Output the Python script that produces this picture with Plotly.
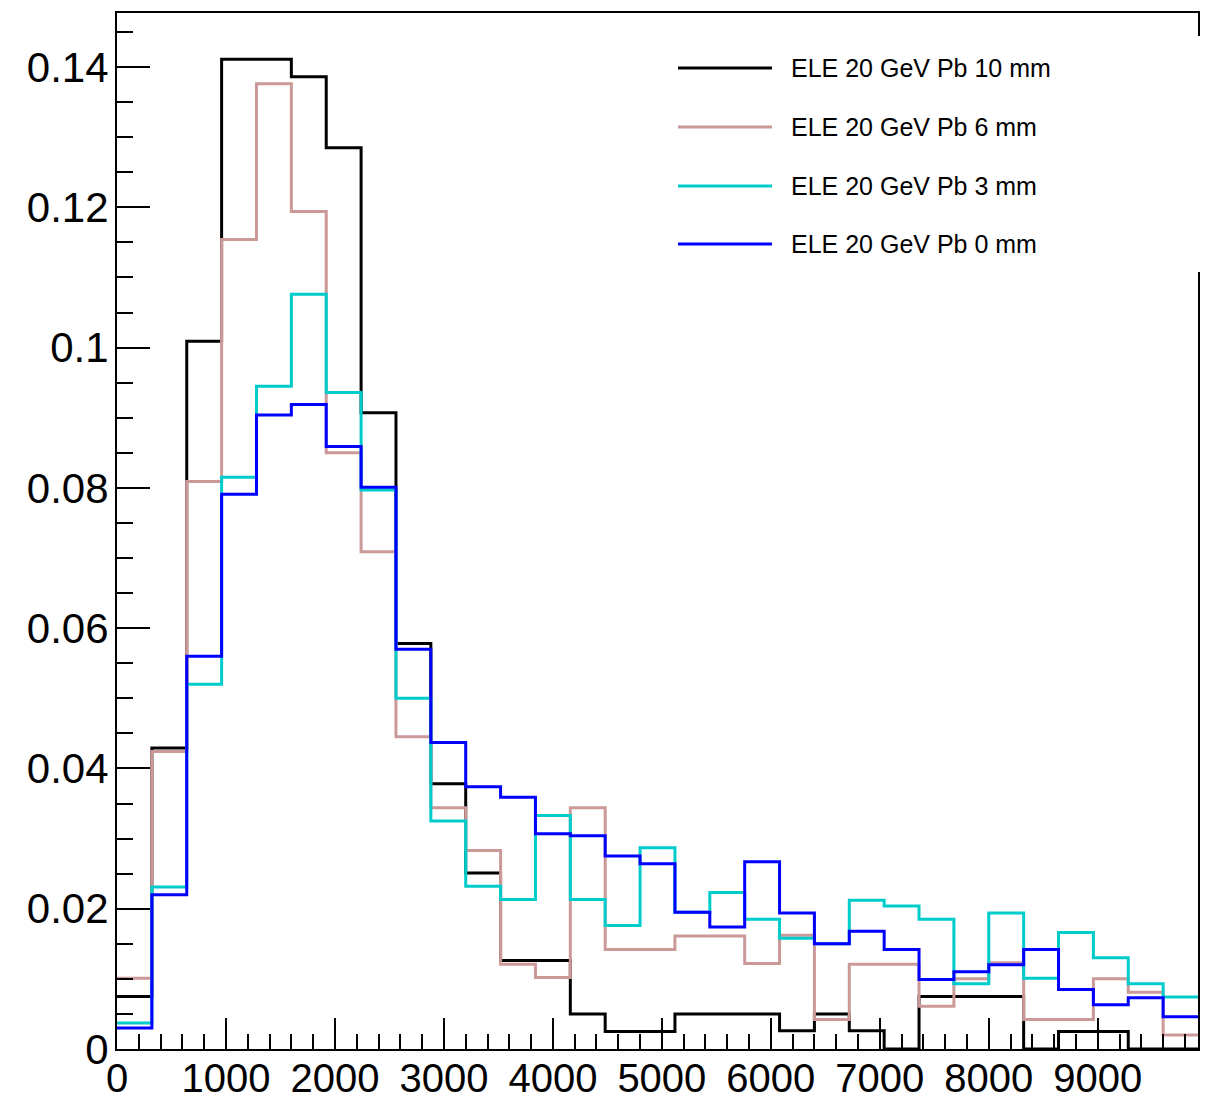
import numpy as np
import plotly.graph_objects as go

# Histogram binning: 31 bins of equal width starting at 0
BIN_WIDTH = 320

# Normalised bin contents for each lead thickness
ele_pb_10mm = [0.0075, 0.0429, 0.1009, 0.1411, 0.1411, 0.1386, 0.1285, 0.0907,
               0.0578, 0.0378, 0.0251, 0.0126, 0.0126, 0.0050, 0.0025, 0.0025,
               0.0050, 0.0050, 0.0050, 0.0026, 0.0050, 0.0026, 0.0000, 0.0075,
               0.0075, 0.0075, 0.0000, 0.0025, 0.0025, 0.0000, 0.0000]
ele_pb_6mm = [0.0101, 0.0424, 0.0809, 0.1154, 0.1376, 0.1194, 0.0850, 0.0709,
              0.0445, 0.0344, 0.0283, 0.0121, 0.0102, 0.0344, 0.0142, 0.0142,
              0.0161, 0.0161, 0.0122, 0.0162, 0.0042, 0.0121, 0.0121, 0.0061,
              0.0100, 0.0123, 0.0042, 0.0042, 0.0100, 0.0081, 0.0020]
ele_pb_3mm = [0.0037, 0.0231, 0.0520, 0.0815, 0.0945, 0.1076, 0.0936, 0.0797,
              0.0500, 0.0325, 0.0232, 0.0213, 0.0333, 0.0213, 0.0176, 0.0287,
              0.0195, 0.0223, 0.0185, 0.0158, 0.0150, 0.0212, 0.0204, 0.0185,
              0.0093, 0.0194, 0.0101, 0.0166, 0.0130, 0.0093, 0.0074]
ele_pb_0mm = [0.0030, 0.0220, 0.0560, 0.0791, 0.0904, 0.0919, 0.0859, 0.0801,
              0.0570, 0.0437, 0.0374, 0.0359, 0.0307, 0.0304, 0.0275, 0.0264,
              0.0195, 0.0174, 0.0267, 0.0194, 0.0150, 0.0168, 0.0142, 0.0099,
              0.0110, 0.0120, 0.0142, 0.0085, 0.0063, 0.0073, 0.0046]

series_names = ["ELE 20 GeV Pb 10 mm", "ELE 20 GeV Pb 6 mm",
                "ELE 20 GeV Pb 3 mm", "ELE 20 GeV Pb 0 mm"]
series_values = [ele_pb_10mm, ele_pb_6mm, ele_pb_3mm, ele_pb_0mm]
series_colors = ["#000000", "#cc9999", "#00cccc", "#0000ff"]

x_tick_values = [0, 1000, 2000, 3000, 4000, 5000, 6000, 7000, 8000, 9000]

n_bins = len(ele_pb_10mm)
edges = np.arange(n_bins + 1) * BIN_WIDTH

W, H = 1212, 1095
L_PX, R_PX, T_PX, B_PX = 117, 1198, 13, 1049
FONT = "Liberation Sans, Arial, Helvetica, sans-serif"

fig = go.Figure()
for name, vals, col in zip(series_names, series_values, series_colors):
    fig.add_trace(go.Scatter(
        x=edges, y=list(vals) + [vals[-1]], mode="lines",
        line=dict(shape="hv", color=col, width=3),
        name=name, showlegend=False, hoverinfo="skip",
    ))


def px_to_paper(px, py):
    return (px - L_PX) / (R_PX - L_PX), (B_PX - py) / (B_PX - T_PX)


# Legend box drawn as a white panel with line samples and labels
shapes = []
annotations = []
bx0, by0 = px_to_paper(662, 272)
bx1, by1 = px_to_paper(1200, 36)
shapes.append(dict(type="rect", xref="paper", yref="paper", x0=bx0, y0=by0,
                   x1=bx1, y1=by1, fillcolor="white", line=dict(width=0),
                   layer="above"))
row_y = [68, 127, 186, 244]
for name, col, ry in zip(series_names, series_colors, row_y):
    lx0, ly = px_to_paper(678, ry)
    lx1, _ = px_to_paper(772, ry)
    shapes.append(dict(type="line", xref="paper", yref="paper", x0=lx0, x1=lx1,
                       y0=ly, y1=ly, line=dict(color=col, width=3),
                       layer="above"))
    tx, ty = px_to_paper(789, ry)
    annotations.append(dict(xref="paper", yref="paper", x=tx, y=ty,
                            text=name, showarrow=False, xanchor="left",
                            yanchor="middle",
                            font=dict(family=FONT, size=25, color="black")))

fig.update_layout(
    width=W, height=H,
    margin=dict(l=L_PX, r=W - R_PX, t=T_PX, b=H - B_PX, pad=0),
    paper_bgcolor="white", plot_bgcolor="white",
    font=dict(family=FONT, size=40, color="black"),
    shapes=shapes, annotations=annotations,
    showlegend=False,
)
fig.update_xaxes(
    range=[0, edges[-1]], tickmode="array", tickvals=x_tick_values,
    ticktext=[str(v) for v in x_tick_values],
    ticks="inside", ticklen=31, tickwidth=2, tickcolor="black",
    minor=dict(dtick=200, ticks="inside", ticklen=15, tickwidth=2,
               tickcolor="black", showgrid=False),
    showline=True, mirror=True, linecolor="black", linewidth=2,
    showgrid=False, zeroline=False, ticklabelstandoff=-7, automargin=False,
    tickfont=dict(size=40),
)
fig.update_yaxes(
    range=[0, 0.1477], dtick=0.02, tick0=0,
    ticks="inside", ticklen=33, tickwidth=2, tickcolor="black",
    minor=dict(dtick=0.005, ticks="inside", ticklen=16, tickwidth=2,
               tickcolor="black", showgrid=False),
    showline=True, mirror=True, linecolor="black", linewidth=2,
    showgrid=False, zeroline=False, ticklabelstandoff=-2, automargin=False,
    tickfont=dict(size=42),
)

fig.write_html("out.html")
